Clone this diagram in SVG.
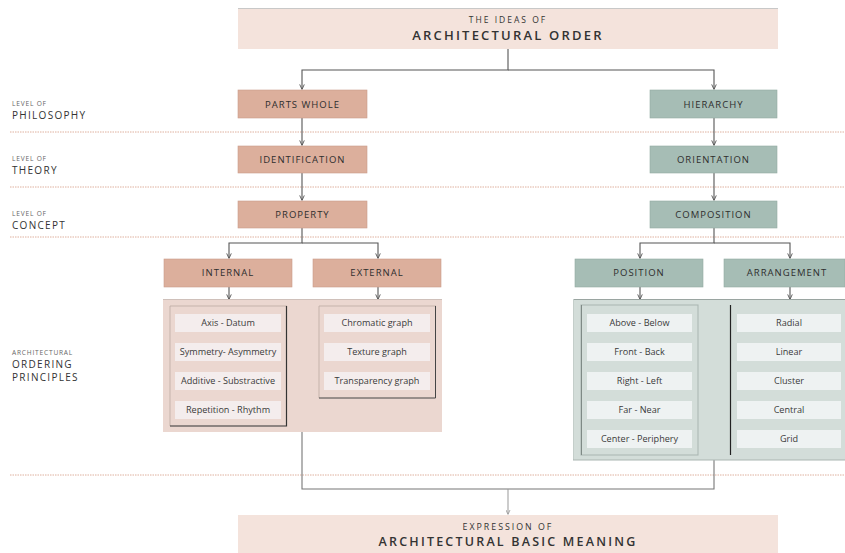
<svg xmlns="http://www.w3.org/2000/svg" width="845" height="553" viewBox="0 0 845 553">
  <defs>
    <marker id="arr" viewBox="0 0 6 6" refX="5" refY="3" markerWidth="5" markerHeight="5" orient="auto">
      <path d="M0,0.5 L5.5,3 L0,5.5" fill="none" stroke="#555" stroke-width="1"/>
    </marker>
    <marker id="arrLight" viewBox="0 0 6 6" refX="5" refY="3" markerWidth="5" markerHeight="5" orient="auto">
      <path d="M0,0.5 L5.5,3 L0,5.5" fill="none" stroke="#999" stroke-width="1"/>
    </marker>
  </defs>
  <style>
    text { font-family: "Open Sans", "Liberation Sans", sans-serif; fill: #333; }
    .band { fill: #f4e3dc; }
    .pink { fill: #dcaf9c; stroke: #c99c8a; stroke-width: 0.6; }
    .green { fill: #a6bdb5; stroke: #93aba2; stroke-width: 0.6; }
    .node { font-size: 9.5px; letter-spacing: 1px; text-anchor: middle; fill: #2e2e2e; }
    .item { font-size: 9.1px; text-anchor: middle; fill: #3a3a3a; }
    .pitem { fill: #f4eded; }
    .gitem { fill: #eef2f2; }
    .lvl-s { font-size: 6.6px; letter-spacing: 0.8px; fill: #666; }
    .lvl-l { font-size: 10px; letter-spacing: 1.3px; fill: #333; }
    .dots { stroke: #d69c86; stroke-width: 0.8; stroke-dasharray: 1.5 1; fill: none; }
    .wire { stroke: #555; stroke-width: 1.1; fill: none; }
  </style>

  <rect width="845" height="553" fill="#ffffff"/>

  <!-- level separators -->
  <g id="levels">
    <line class="dots" x1="10" y1="132" x2="845" y2="132"/>
    <line class="dots" x1="10" y1="187" x2="845" y2="187"/>
    <line class="dots" x1="10" y1="237" x2="845" y2="237"/>
    <line class="dots" x1="10" y1="475" x2="845" y2="475"/>
    <text class="lvl-s" x="12" y="106">LEVEL OF</text>
    <text class="lvl-l" x="12" y="119">PHILOSOPHY</text>
    <text class="lvl-s" x="12" y="161">LEVEL OF</text>
    <text class="lvl-l" x="12" y="174">THEORY</text>
    <text class="lvl-s" x="12" y="216">LEVEL OF</text>
    <text class="lvl-l" x="12" y="229">CONCEPT</text>
    <text class="lvl-s" x="12" y="355">ARCHITECTURAL</text>
    <text class="lvl-l" x="12" y="368">ORDERING</text>
    <text class="lvl-l" x="12" y="381">PRINCIPLES</text>
  </g>

  <!-- connectors -->
  <g id="connectors">
    <path class="wire" d="M508,49 V70 H302 V89" marker-end="url(#arr)"/>
    <path class="wire" d="M508,70 H714 V89" marker-end="url(#arr)"/>
    <path class="wire" d="M302,118 V145" marker-end="url(#arr)"/>
    <path class="wire" d="M302,173 V200" marker-end="url(#arr)"/>
    <path class="wire" d="M714,118 V145" marker-end="url(#arr)"/>
    <path class="wire" d="M714,173 V200" marker-end="url(#arr)"/>
    <path class="wire" d="M302,228 V243 H229 V258" marker-end="url(#arr)"/>
    <path class="wire" d="M302,243 H378 V258" marker-end="url(#arr)"/>
    <path class="wire" d="M714,228 V243 H640 V258" marker-end="url(#arr)"/>
    <path class="wire" d="M714,243 H790 V258" marker-end="url(#arr)"/>
    <path class="wire" d="M229,287 V299" marker-end="url(#arr)"/>
    <path class="wire" d="M378,287 V299" marker-end="url(#arr)"/>
    <path class="wire" d="M640,287 V299" marker-end="url(#arr)"/>
    <path class="wire" d="M790,287 V299" marker-end="url(#arr)"/>
    <path d="M302,432 V489 H714 V460" fill="none" stroke="#777" stroke-width="1.1"/>
    <path d="M508,489 V514" fill="none" stroke="#999" stroke-width="1" marker-end="url(#arrLight)"/>
  </g>

  <!-- top title band -->
  <g id="title">
    <rect class="band" x="238" y="8" width="540" height="41"/>
    <line x1="238" y1="8.5" x2="778" y2="8.5" stroke="#c8c8c8" stroke-width="1"/>
    <text x="508" y="23" text-anchor="middle" font-size="8.5" letter-spacing="2" fill="#444">THE IDEAS OF</text>
    <text x="508" y="40" text-anchor="middle" font-size="13" font-weight="600" letter-spacing="2.2" fill="#222">ARCHITECTURAL ORDER</text>
  </g>

  <!-- left branch -->
  <g id="parts-whole"><rect class="pink" x="238" y="90" width="129" height="28"/><text class="node" x="302.5" y="107.5">PARTS WHOLE</text></g>
  <g id="identification"><rect class="pink" x="238" y="146" width="129" height="27"/><text class="node" x="302.5" y="163">IDENTIFICATION</text></g>
  <g id="property"><rect class="pink" x="238" y="201" width="129" height="27"/><text class="node" x="302.5" y="218">PROPERTY</text></g>
  <g id="internal"><rect class="pink" x="164" y="259" width="128" height="28"/><text class="node" x="228" y="276">INTERNAL</text></g>
  <g id="external"><rect class="pink" x="313" y="259" width="128" height="28"/><text class="node" x="377" y="276">EXTERNAL</text></g>

  <!-- right branch -->
  <g id="hierarchy"><rect class="green" x="650" y="90" width="127" height="28"/><text class="node" x="713.5" y="107.5">HIERARCHY</text></g>
  <g id="orientation"><rect class="green" x="650" y="146" width="127" height="27"/><text class="node" x="713.5" y="163">ORIENTATION</text></g>
  <g id="composition"><rect class="green" x="650" y="201" width="127" height="27"/><text class="node" x="713.5" y="218">COMPOSITION</text></g>
  <g id="position"><rect class="green" x="575" y="259" width="128" height="28"/><text class="node" x="639" y="276">POSITION</text></g>
  <g id="arrangement"><rect class="green" x="724" y="259" width="121" height="28"/><text class="node" x="787" y="276">ARRANGEMENT</text></g>

  <!-- property principles panel -->
  <g id="property-principles">
    <rect x="163" y="299" width="279" height="133" fill="#ebd7d0"/>
    <line x1="163" y1="299.5" x2="442" y2="299.5" stroke="#cfc0ba" stroke-width="1"/>
    <g id="internal-list">
      <path d="M170,426 V306 H287" fill="none" stroke="#bba9a2" stroke-width="0.8"/>
      <path d="M286.5,306 V426 H170" fill="none" stroke="#333" stroke-width="1.2"/>
      <rect class="pitem" x="175" y="314" width="106" height="18"/><text class="item" x="228" y="326">Axis - Datum</text>
      <rect class="pitem" x="175" y="343" width="106" height="18"/><text class="item" x="228" y="355">Symmetry-  Asymmetry</text>
      <rect class="pitem" x="175" y="372" width="106" height="18"/><text class="item" x="228" y="384">Additive - Substractive</text>
      <rect class="pitem" x="175" y="401" width="106" height="18"/><text class="item" x="228" y="413">Repetition - Rhythm</text>
    </g>
    <g id="external-list">
      <path d="M319,398 V306 H436" fill="none" stroke="#bba9a2" stroke-width="0.8"/>
      <path d="M435.5,306 V398 H319" fill="none" stroke="#444" stroke-width="1"/>
      <rect class="pitem" x="324" y="314" width="106" height="18"/><text class="item" x="377" y="326">Chromatic graph</text>
      <rect class="pitem" x="324" y="343" width="106" height="18"/><text class="item" x="377" y="355">Texture graph</text>
      <rect class="pitem" x="324" y="372" width="106" height="18"/><text class="item" x="377" y="384">Transparency graph</text>
    </g>
  </g>

  <!-- composition principles panel -->
  <g id="composition-principles">
    <rect x="573" y="299" width="272" height="161" fill="#d3ddd9"/>
    <line x1="573" y1="299.5" x2="845" y2="299.5" stroke="#9aa5a1" stroke-width="1"/>
    <line x1="573.5" y1="299" x2="573.5" y2="460" stroke="#c4ceca" stroke-width="1"/>
    <line x1="573" y1="460" x2="845" y2="460" stroke="#aab5b1" stroke-width="1"/>
    <g id="position-list">
      <rect x="581" y="305" width="117" height="150" fill="none" stroke="#a9b5b1" stroke-width="1"/>
      <line x1="581.5" y1="305" x2="581.5" y2="455" stroke="#7f8a86" stroke-width="1"/>
      <rect class="gitem" x="587" y="314" width="105" height="18"/><text class="item" x="639.5" y="326">Above - Below</text>
      <rect class="gitem" x="587" y="343" width="105" height="18"/><text class="item" x="639.5" y="355">Front - Back</text>
      <rect class="gitem" x="587" y="372" width="105" height="18"/><text class="item" x="639.5" y="384">Right - Left</text>
      <rect class="gitem" x="587" y="401" width="105" height="18"/><text class="item" x="639.5" y="413">Far - Near</text>
      <rect class="gitem" x="587" y="430" width="105" height="18"/><text class="item" x="639.5" y="442">Center - Periphery</text>
    </g>
    <g id="arrangement-list">
      <line x1="730.5" y1="305" x2="730.5" y2="455" stroke="#222" stroke-width="1.2"/>
      <rect class="gitem" x="737" y="314" width="104" height="18"/><text class="item" x="789" y="326">Radial</text>
      <rect class="gitem" x="737" y="343" width="104" height="18"/><text class="item" x="789" y="355">Linear</text>
      <rect class="gitem" x="737" y="372" width="104" height="18"/><text class="item" x="789" y="384">Cluster</text>
      <rect class="gitem" x="737" y="401" width="104" height="18"/><text class="item" x="789" y="413">Central</text>
      <rect class="gitem" x="737" y="430" width="104" height="18"/><text class="item" x="789" y="442">Grid</text>
    </g>
  </g>

  <!-- bottom result band -->
  <g id="meaning">
    <rect class="band" x="238" y="515" width="540" height="38"/>
    <text x="508" y="530" text-anchor="middle" font-size="8.8" letter-spacing="2" fill="#444">EXPRESSION OF</text>
    <text x="508" y="546" text-anchor="middle" font-size="12.5" font-weight="600" letter-spacing="2.2" fill="#222">ARCHITECTURAL BASIC MEANING</text>
  </g>
</svg>
